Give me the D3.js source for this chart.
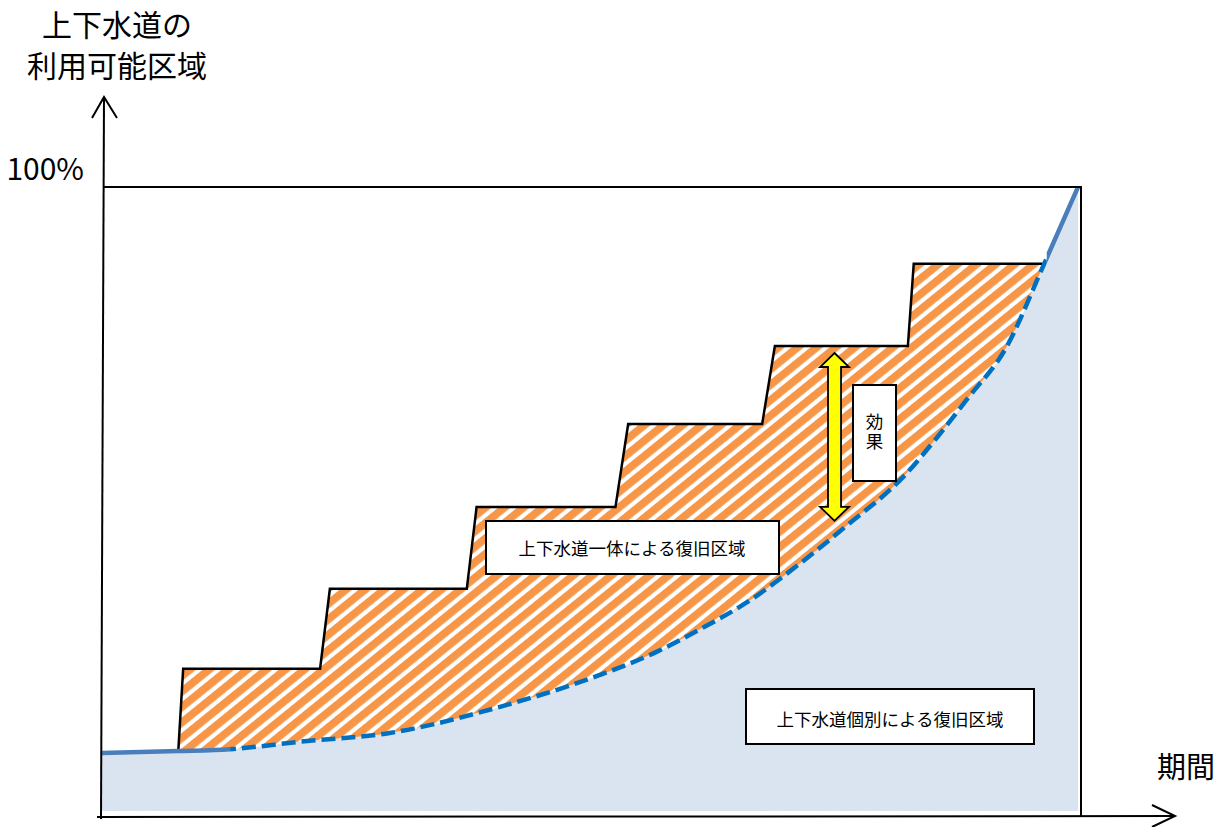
<!DOCTYPE html>
<html>
<head>
<meta charset="utf-8">
<script src="https://cdn.jsdelivr.net/npm/d3@7"></script>
<style>
  body { margin: 0; background: #fff; }
  svg { display: block; }
  text { font-family: "Noto Sans CJK JP", "Noto Sans", sans-serif; fill: #000; }
</style>
</head>
<body>
<svg id="chart"></svg>
<script>
// period (0-100) and usable share (%) of the separate recovery curve
const periodT  = [0, 7.8, 13.1, 20.2, 29.4, 40.7, 50.9, 56.7, 61.0, 66.0, 71.4, 76.2, 81.9, 85.4, 88.4, 92.5, 96.2, 99.8];
const separateV = [9.3, 9.6, 9.9, 11.1, 12.5, 16.7, 21.8, 25.5, 29.0, 33.5, 39.7, 45.8, 53.5, 59.9, 65.9, 74.4, 87.2, 100];

// integrated recovery: steps
const stepRiseFrom = [7.8, 22.3, 37.3, 52.5, 67.5, 82.4];
const stepRiseTo   = [8.3, 23.3, 38.3, 53.8, 68.8, 83.0];
const stepLevels   = [22.8, 35.6, 48.7, 62.0, 74.5, 87.7];
const stepEndT = 96.2;

// effect arrow
const effectT = 74.9, effectTop = 73.4, effectBottom = 46.5;

const yTitle = ['上下水道の', '利用可能区域'];
const xTitle = '期間';
const topTick = '100%';
const labelJoint = '上下水道一体による復旧区域';
const labelSeparate = '上下水道個別による復旧区域';
const labelEffect = '効果';

const W = 1226, H = 827;
const svg = d3.select('#chart').attr('width', W).attr('height', H);

const x = d3.scaleLinear().domain([0, 100]).range([102, 1080]);
const y = d3.scaleLinear().domain([0, 100]).range([811, 187]);

const curvePts = periodT.map((t, i) => [t, separateV[i]]);
const curveAt = t => {
  const i = d3.bisector(d => d[0]).left(curvePts, t);
  if (i <= 0) return curvePts[0][1];
  const a = curvePts[i - 1], b = curvePts[i];
  return a[1] + (b[1] - a[1]) * (t - a[0]) / (b[0] - a[0]);
};

const defs = svg.append('defs');
const pat = defs.append('pattern')
  .attr('id', 'hatch')
  .attr('patternUnits', 'userSpaceOnUse')
  .attr('width', 12).attr('height', 20)
  .attr('patternTransform', 'rotate(51)');
pat.append('rect').attr('width', 12).attr('height', 20).attr('fill', '#fff');
pat.append('rect').attr('width', 7.8).attr('height', 20).attr('fill', '#f79646');

// clip: area above the curve
defs.append('clipPath').attr('id', 'aboveCurve')
  .append('path')
  .attr('d', d3.area().x(d => x(d[0])).y0(0).y1(d => y(d[1])).curve(d3.curveMonotoneX)(curvePts));

const clipRange = (id, t0, t1) => defs.append('clipPath').attr('id', id)
  .append('rect').attr('x', x(t0)).attr('y', 0).attr('width', x(t1) - x(t0)).attr('height', H);
clipRange('solidL', -5, 13.1);
clipRange('solidR', 96.6, 105);
clipRange('dashMid', 13.1, 96.6);

// light blue area under the curve
svg.append('path')
  .attr('d', d3.area().x(d => x(d[0])).y0(y(0)).y1(d => y(d[1])).curve(d3.curveMonotoneX)(curvePts))
  .attr('fill', '#dae3f0');

// step polyline
const stepPts = [[stepRiseFrom[0], curveAt(stepRiseFrom[0])]];
stepLevels.forEach((v, i) => {
  if (i > 0) stepPts.push([stepRiseFrom[i], stepLevels[i - 1]]);
  stepPts.push([stepRiseTo[i], v]);
});
stepPts.push([stepEndT, stepLevels[stepLevels.length - 1]]);

const polyLine = d3.line().x(d => x(d[0])).y(d => y(d[1]));

// hatched region between steps and curve
svg.append('path')
  .attr('d', polyLine([[stepRiseFrom[0], 0], ...stepPts, [stepEndT, 0]]) + 'Z')
  .attr('fill', 'url(#hatch)')
  .attr('clip-path', 'url(#aboveCurve)');

svg.append('path')
  .attr('d', polyLine(stepPts))
  .attr('fill', 'none').attr('stroke', '#000').attr('stroke-width', 2.5)
  .attr('stroke-linejoin', 'miter');

// curve lines
const curveLine = d3.line().x(d => x(d[0])).y(d => y(d[1])).curve(d3.curveMonotoneX);
['solidL', 'solidR'].forEach(id => {
  svg.append('path').attr('d', curveLine(curvePts))
    .attr('fill', 'none').attr('stroke', '#4a7ebb').attr('stroke-width', 4.5)
    .attr('clip-path', `url(#${id})`);
});
svg.append('path').attr('d', curveLine(curvePts))
  .attr('fill', 'none').attr('stroke', '#0070c0').attr('stroke-width', 4.5)
  .attr('stroke-dasharray', '14,6')
  .attr('clip-path', 'url(#dashMid)');

// frame and axes
svg.append('line')
  .attr('x1', x(0) + 2).attr('y1', y(100)).attr('x2', x(100) + 2).attr('y2', y(100))
  .attr('stroke', '#000').attr('stroke-width', 2);
svg.append('line')
  .attr('x1', x(100) + 1).attr('y1', y(100) - 1).attr('x2', x(100) + 1).attr('y2', 816)
  .attr('stroke', '#000').attr('stroke-width', 2);

const axisG = svg.append('g').attr('stroke', '#000').attr('stroke-width', 2).attr('fill', 'none');
axisG.append('line').attr('x1', 101).attr('y1', 819).attr('x2', 104).attr('y2', 97);
axisG.append('polyline').attr('points', '92,118 104,97 117,118');
axisG.append('line').attr('x1', 97).attr('y1', 817).attr('x2', 1175).attr('y2', 816);
axisG.append('polyline').attr('points', '1152,805 1175,816 1152,827');

// texts
svg.append('text').attr('x', 117).attr('y', 36).attr('text-anchor', 'middle')
  .attr('font-size', 30).text(yTitle[0]);
svg.append('text').attr('x', 117).attr('y', 77).attr('text-anchor', 'middle')
  .attr('font-size', 30).text(yTitle[1]);
svg.append('text').attr('x', 84).attr('y', 180).attr('text-anchor', 'end')
  .attr('font-size', 30).text(topTick);
svg.append('text').attr('x', 1157).attr('y', 778)
  .attr('font-size', 29).text(xTitle);

// effect arrow
const ax = x(effectT), aTop = y(effectTop), aBot = y(effectBottom);
const sw = 6.5, hw = 14.5, hl = 14;
svg.append('path')
  .attr('d', `M${ax},${aTop} L${ax + hw},${aTop + hl} L${ax + sw},${aTop + hl} L${ax + sw},${aBot - hl}
    L${ax + hw},${aBot - hl} L${ax},${aBot} L${ax - hw},${aBot - hl} L${ax - sw},${aBot - hl}
    L${ax - sw},${aTop + hl} L${ax - hw},${aTop + hl} Z`)
  .attr('fill', '#ffff00').attr('stroke', '#000').attr('stroke-width', 1.8);

// label boxes
function box(x0, y0, w, h) {
  svg.append('rect').attr('x', x0).attr('y', y0).attr('width', w).attr('height', h)
    .attr('fill', '#fff').attr('stroke', '#000').attr('stroke-width', 2);
}
box(486, 521, 293, 53);
svg.append('text').attr('x', 632).attr('y', 548).attr('dy', '0.38em')
  .attr('text-anchor', 'middle').attr('font-size', 17.5).text(labelJoint);

box(746, 689, 288, 55);
svg.append('text').attr('x', 890).attr('y', 719).attr('dy', '0.38em')
  .attr('text-anchor', 'middle').attr('font-size', 17.5).text(labelSeparate);

box(853, 385, 43, 96);
svg.append('text').attr('x', 874.5).attr('y', 433)
  .attr('text-anchor', 'middle')
  .style('writing-mode', 'vertical-rl')
  .style('letter-spacing', '3px')
  .attr('font-size', 17.5).text(labelEffect);
</script>
</body>
</html>
